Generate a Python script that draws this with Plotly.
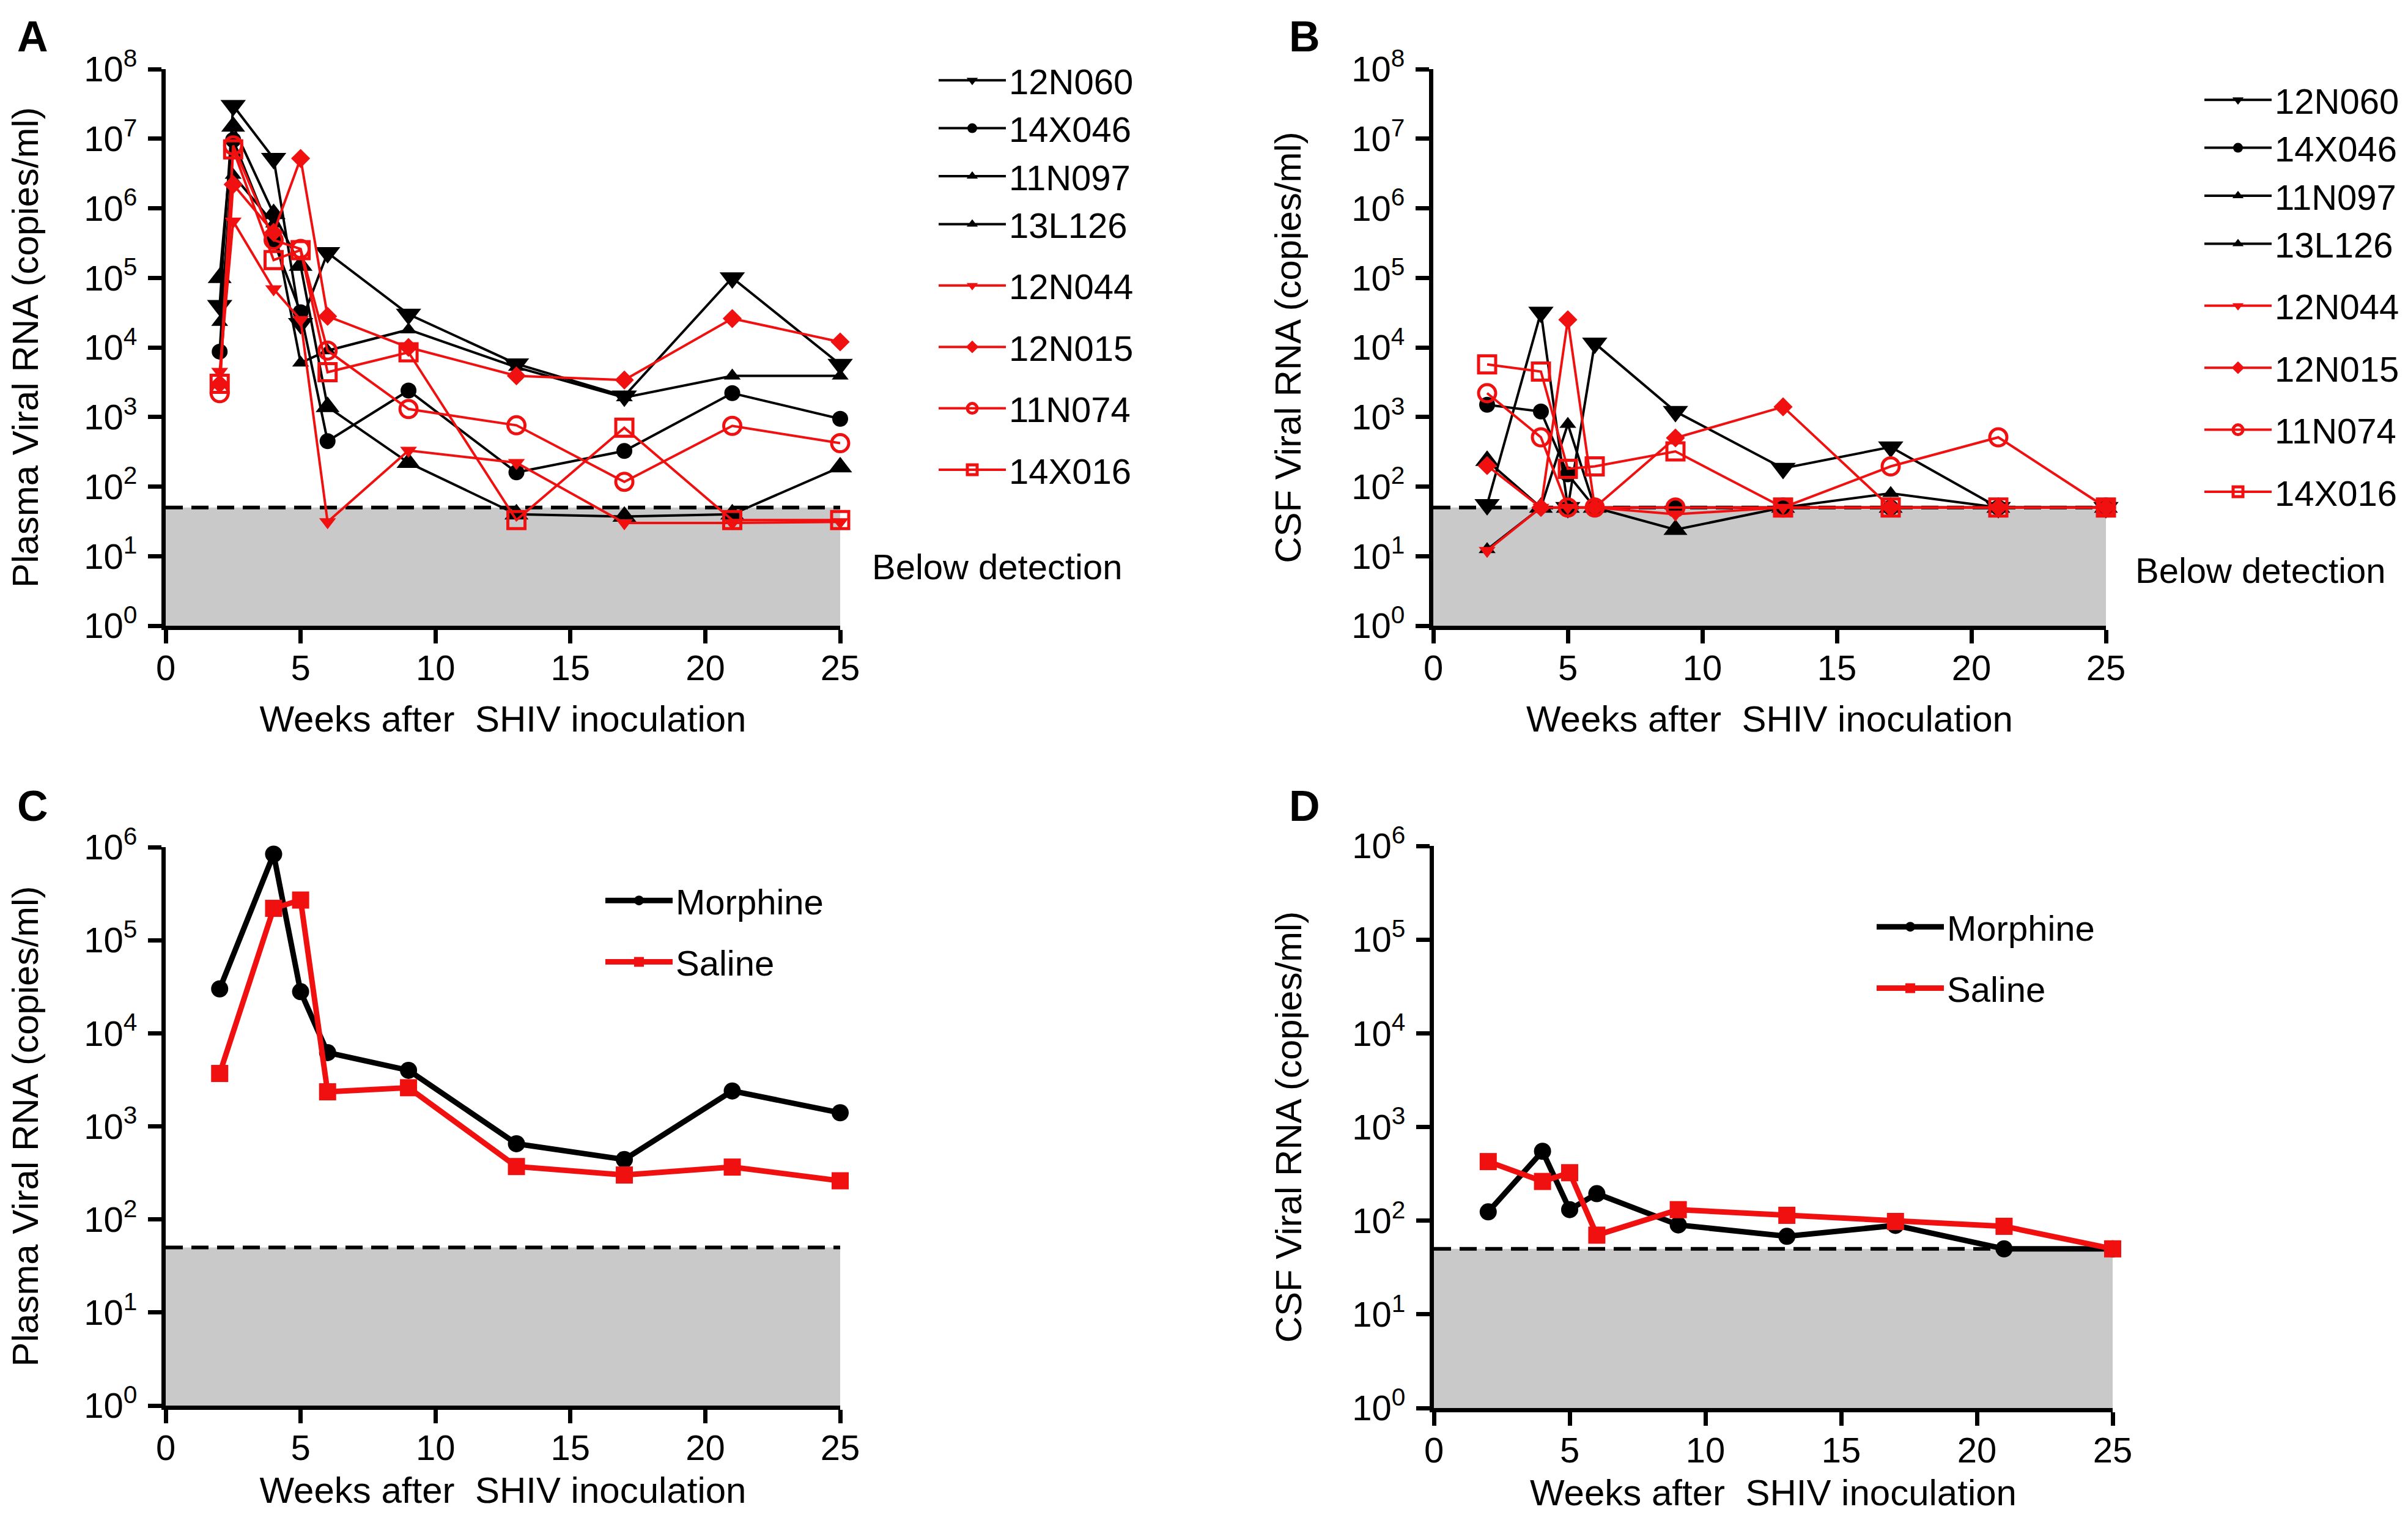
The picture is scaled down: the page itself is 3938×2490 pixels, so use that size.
import plotly.graph_objects as go

# ---------------- data ----------------
WEEKS_A = [2, 2.5, 4, 5, 6, 9, 13, 17, 21, 25]
WEEKS_B = [2, 4, 5, 6, 9, 13, 17, 21, 25]
WEEKS_CD = [2, 4, 5, 6, 9, 13, 17, 21, 25]

ANIMALS = ["12N060", "14X046", "11N097", "13L126", "12N044", "12N015", "11N074", "14X016"]

PLASMA_12N060 = [4e4, 3e7, 5.2e6, 2.2e4, 2.3e5, 3e4, 5.8e3, 2e3, 1e5, 5.7e3]
PLASMA_14X046 = [8.7e3, 9.6e6, 3.4e5, 3.2e4, 450, 2.4e3, 160, 325, 2.2e3, 940]
PLASMA_11N097 = [1e5, 1.5e7, 8.3e5, 1.5e5, 1.4e3, 220, 40, 37, 40, 190]
PLASMA_13L126 = [2.3e4, 3e6, 6e5, 6e3, 9e3, 1.8e4, 5.2e3, 1.9e3, 3.9e3, 3.9e3]
PLASMA_12N044 = [4.5e3, 6.5e5, 6.9e4, 2.5e4, 31, 330, 220, 30, 30, 31]
PLASMA_12N015 = [3e3, 2.2e6, 4.5e5, 5.2e6, 2.8e4, 1e4, 3.9e3, 3.4e3, 2.6e4, 1.2e4]
PLASMA_11N074 = [2.2e3, 8e6, 3.5e5, 2.6e5, 9e3, 1.3e3, 760, 117, 745, 420]
PLASMA_14X016 = [3e3, 7e6, 1.8e5, 2.5e5, 4.4e3, 8.5e3, 33, 700, 33, 33]

CSF_12N060 = [55, 3.2e4, 50, 1.15e4, 1.2e3, 183, 370, 50, 50]
CSF_14X046 = [1.5e3, 1.2e3, 150, 50, 50, 50, 50, 50, 50]
CSF_11N097 = [235, 50, 50, 50, 24, 50, 50, 50, 50]
CSF_13L126 = [12.5, 50, 790, 50, 50, 50, 80, 50, 50]
CSF_12N044 = [12, 50, 50, 50, 40, 50, 50, 50, 50]
CSF_12N015 = [200, 50, 2.5e4, 50, 500, 1.4e3, 50, 50, 50]
CSF_11N074 = [2.2e3, 510, 50, 50, 50, 50, 195, 510, 50]
CSF_14X016 = [5.7e3, 4.5e3, 180, 195, 320, 50, 50, 50, 50]

MORPHINE_PLASMA = [3e4, 8.4e5, 2.8e4, 6.2e3, 4e3, 650, 440, 2.4e3, 1.4e3]
SALINE_PLASMA = [3.7e3, 2.2e5, 2.7e5, 2.35e3, 2.6e3, 370, 300, 365, 260]
MORPHINE_CSF = [124, 550, 131, 194, 90, 68, 89, 50, 50]
SALINE_CSF = [427, 262, 325, 70, 131, 114, 98, 87, 50]

DETECTION_LIMIT = 50
X_RANGE = [0, 25]
X_TICKS = [0, 5, 10, 15, 20, 25]
Y_FLOOR = 1

PLASMA = dict(zip(ANIMALS, [PLASMA_12N060, PLASMA_14X046, PLASMA_11N097, PLASMA_13L126,
                            PLASMA_12N044, PLASMA_12N015, PLASMA_11N074, PLASMA_14X016]))
CSF = dict(zip(ANIMALS, [CSF_12N060, CSF_14X046, CSF_11N097, CSF_13L126,
                         CSF_12N044, CSF_12N015, CSF_11N074, CSF_14X016]))

# ---------------- styles ----------------
BLACK = "#000000"
RED = "#f01010"
GRAY = "#c9c9c9"
FONT = "Liberation Sans, Arial, sans-serif"

STYLE = {
    "12N060": (BLACK, "triangle-down", 36, "g1"),
    "14X046": (BLACK, "circle", 26, "g1"),
    "11N097": (BLACK, "triangle-up", 34, "g1"),
    "13L126": (BLACK, "triangle-up", 24, "g1"),
    "12N044": (RED, "triangle-down", 24, "g2"),
    "12N015": (RED, "diamond", 24, "g3"),
    "11N074": (RED, "circle-open", 28, "g4"),
    "14X016": (RED, "square-open", 28, "g5"),
}

fig = go.Figure()


def add_floor(xa, ya):
    fig.add_trace(go.Scatter(
        x=[X_RANGE[0], X_RANGE[1], X_RANGE[1], X_RANGE[0], X_RANGE[0]],
        y=[Y_FLOOR, Y_FLOOR, DETECTION_LIMIT, DETECTION_LIMIT, Y_FLOOR],
        mode="none", fill="toself", fillcolor=GRAY, showlegend=False,
        hoverinfo="skip", xaxis=xa, yaxis=ya))
    fig.add_trace(go.Scatter(
        x=X_RANGE, y=[DETECTION_LIMIT, DETECTION_LIMIT], mode="lines",
        line=dict(color=BLACK, width=6, dash="28px,14px"), showlegend=False,
        hoverinfo="skip", xaxis=xa, yaxis=ya))


def add_animals(weeks, values, xa, ya, legend, prefix):
    for name in ANIMALS:
        color, symbol, size, grp = STYLE[name]
        openm = symbol.endswith("open")
        fig.add_trace(go.Scatter(
            x=weeks, y=values[name], mode="lines+markers", name=name,
            line=dict(color=color, width=4),
            marker=dict(symbol=symbol, size=size, color=color,
                        line=dict(color=color, width=5 if openm else 0)),
            cliponaxis=False, legend=legend, legendgroup=prefix + grp,
            xaxis=xa, yaxis=ya))


def add_groups(weeks, morph, sal, xa, ya, legend, prefix):
    fig.add_trace(go.Scatter(
        x=weeks, y=morph, mode="lines+markers", name="Morphine",
        line=dict(color=BLACK, width=9),
        marker=dict(symbol="circle", size=28, color=BLACK),
        cliponaxis=False, legend=legend, legendgroup=prefix + "m",
        xaxis=xa, yaxis=ya))
    fig.add_trace(go.Scatter(
        x=weeks, y=sal, mode="lines+markers", name="Saline",
        line=dict(color=RED, width=9),
        marker=dict(symbol="square", size=28, color=RED),
        cliponaxis=False, legend=legend, legendgroup=prefix + "s",
        xaxis=xa, yaxis=ya))


add_floor("x", "y")
add_animals(WEEKS_A, PLASMA, "x", "y", "legend", "A")
add_floor("x2", "y2")
add_animals(WEEKS_B, CSF, "x2", "y2", "legend2", "B")
add_floor("x3", "y3")
add_groups(WEEKS_CD, MORPHINE_PLASMA, SALINE_PLASMA, "x3", "y3", "legend3", "C")
add_floor("x4", "y4")
add_groups(WEEKS_CD, MORPHINE_CSF, SALINE_CSF, "x4", "y4", "legend4", "D")

W, H = 3938, 2490


def xaxis(domain, anchor, standoff):
    return dict(domain=domain, anchor=anchor, range=X_RANGE, tickvals=X_TICKS,
                showgrid=False, zeroline=False, showline=True, linecolor=BLACK,
                linewidth=7, ticks="outside", ticklen=22, tickwidth=7,
                tickcolor=BLACK, tickfont=dict(family=FONT, size=58, color=BLACK),
                ticklabelstandoff=-10, automargin=False,
                title=dict(text="Weeks after  SHIV inoculation", standoff=standoff,
                           font=dict(family=FONT, size=60, color=BLACK)))


def yaxis(domain, anchor, top, title):
    vals = [10 ** k for k in range(0, top + 1)]
    txt = ["10<sup>%d</sup>" % k for k in range(0, top + 1)]
    return dict(domain=domain, anchor=anchor, type="log", range=[0, top],
                tickvals=vals, ticktext=txt, showgrid=False, zeroline=False,
                showline=True, linecolor=BLACK, linewidth=7, ticks="outside",
                ticklen=22, tickwidth=7, tickcolor=BLACK,
                tickfont=dict(family=FONT, size=58, color=BLACK),
                ticklabelstandoff=6, automargin=False,
                title=dict(text=title, standoff=66,
                           font=dict(family=FONT, size=60, color=BLACK)))


def legend(x, y, gap):
    return dict(x=x, y=y, xanchor="left", yanchor="top", bgcolor="rgba(0,0,0,0)",
                borderwidth=0, tracegroupgap=gap, itemwidth=110,
                font=dict(family=FONT, size=58, color=BLACK))


XA = [263 / W, 1366 / W]
XB = [2336 / W, 3436 / W]
XC = [263 / W, 1366 / W]
XD = [2337 / W, 3447 / W]
YAB = [1 - 1015 / H, 1 - 105 / H]
YC = [1 - 2290 / H, 1 - 1377 / H]
YD = [1 - 2294 / H, 1 - 1375 / H]

fig.update_layout(
    width=W, height=H, margin=dict(l=0, r=0, t=0, b=0, autoexpand=False),
    paper_bgcolor="white", plot_bgcolor="white",
    font=dict(family=FONT, color=BLACK),
    xaxis=xaxis(XA, "y", 34), yaxis=yaxis(YAB, "x", 8, "Plasma Viral RNA (copies/ml)"),
    xaxis2=xaxis(XB, "y2", 34), yaxis2=yaxis(YAB, "x2", 8, "CSF Viral RNA (copies/ml)"),
    xaxis3=xaxis(XC, "y3", 20), yaxis3=yaxis(YC, "x3", 6, "Plasma Viral RNA (copies/ml)"),
    xaxis4=xaxis(XD, "y4", 20), yaxis4=yaxis(YD, "x4", 6, "CSF Viral RNA (copies/ml)"),
    legend=legend(1522 / W, 1 - 79 / H, 22),
    legend2=legend(3592 / W, 1 - 111 / H, 23),
    legend3=legend(977 / W, 1 - 1420 / H, 22),
    legend4=legend(3056 / W, 1 - 1463 / H, 22),
    showlegend=True,
)

ann = [
    dict(text="A", x=45 / W, y=1 - 52 / H),
    dict(text="B", x=2125 / W, y=1 - 52 / H),
    dict(text="C", x=45 / W, y=1 - 1310 / H),
    dict(text="D", x=2125 / W, y=1 - 1310 / H),
]
for a in ann:
    fig.add_annotation(text="<b>%s</b>" % a["text"], x=a["x"], y=a["y"], xref="paper",
                       yref="paper", showarrow=False, xanchor="center", yanchor="middle",
                       font=dict(family=FONT, size=70, color=BLACK))

for x, y in [(1416 / W, 1 - 918 / H), (3482 / W, 1 - 925 / H)]:
    fig.add_annotation(text="Below detection", x=x, y=y, xref="paper", yref="paper",
                       showarrow=False, xanchor="left", yanchor="middle",
                       font=dict(family=FONT, size=58, color=BLACK))

fig.write_html("out.html")
